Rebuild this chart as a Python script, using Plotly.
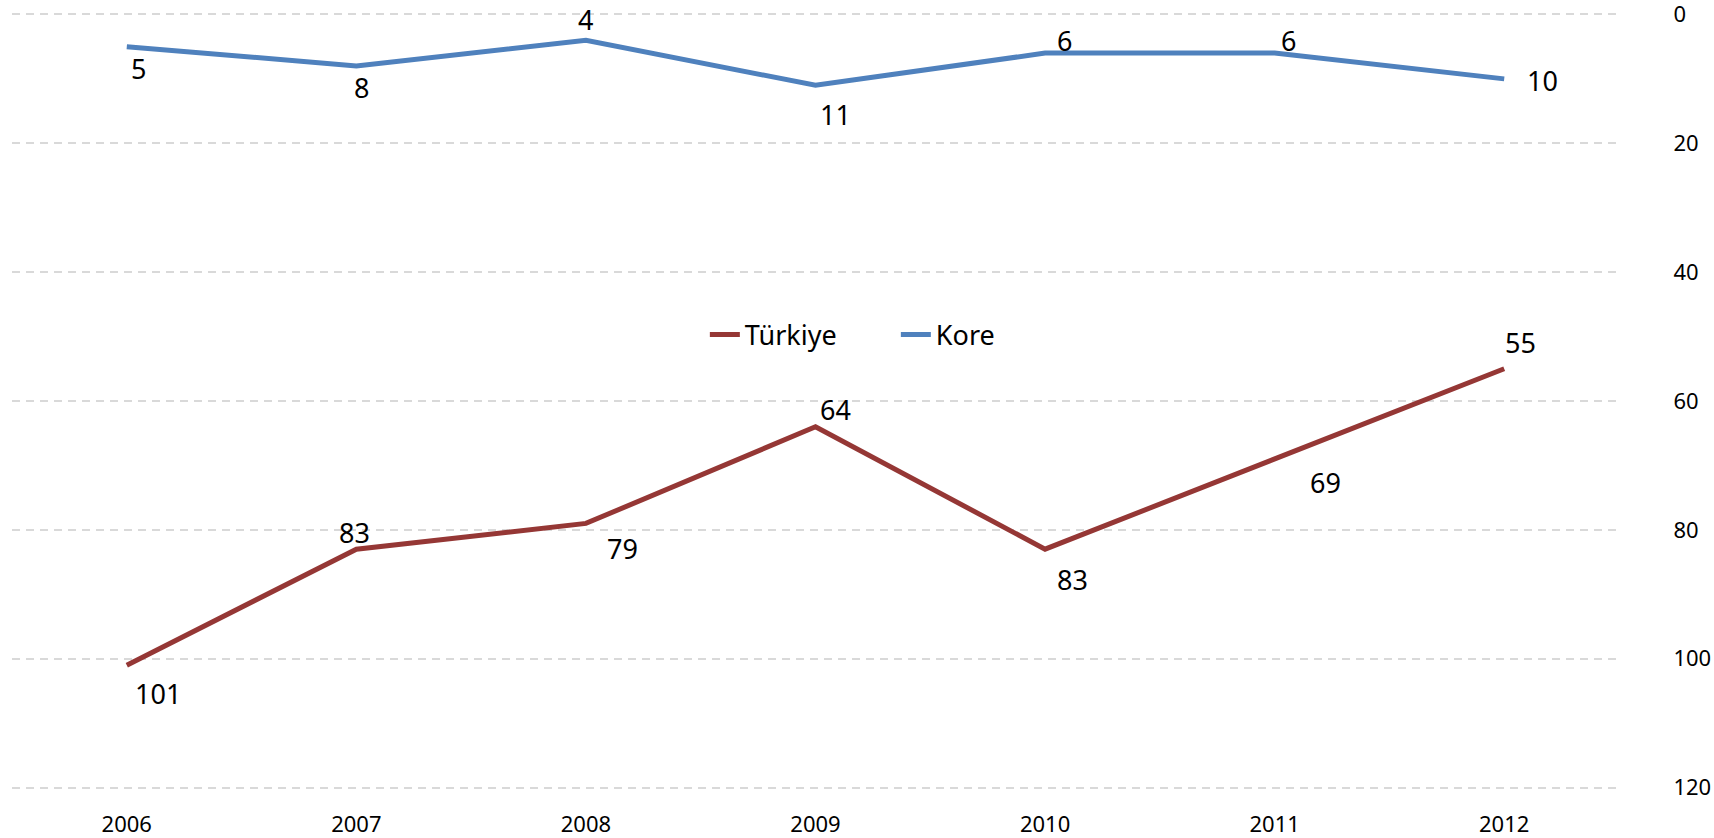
import plotly.graph_objects as go

years = [2006, 2007, 2008, 2009, 2010, 2011, 2012]
turkiye = [101, 83, 79, 64, 83, 69, 55]
kore = [5, 8, 4, 11, 6, 6, 10]
y_ticks = [0, 20, 40, 60, 80, 100, 120]

# label offsets (pixels) for each data label
kore_shift = [(12, -22), (5, -22), (0, 21), (20, -29), (19, 13), (14, 13), (38, -2)]
turk_shift = [(31, -28), (-2, 17), (37, -25), (20, 17), (27, -30), (51, -24), (16, 26)]

RED = "#953735"
BLUE = "#4F81BD"
FONT = "Noto Sans"

fig = go.Figure()
fig.add_trace(go.Scatter(x=years, y=turkiye, name="Türkiye", mode="lines",
                         line=dict(color=RED, width=5)))
fig.add_trace(go.Scatter(x=years, y=kore, name="Kore", mode="lines",
                         line=dict(color=BLUE, width=5)))

for ys, shifts in ((kore, kore_shift), (turkiye, turk_shift)):
    for x, y, (dx, dy) in zip(years, ys, shifts):
        fig.add_annotation(x=x, y=y, xref="x", yref="y", text=str(y), showarrow=False,
                           xshift=dx, yshift=dy,
                           font=dict(family=FONT, size=27, color="#000000"))

fig.update_layout(
    width=1714, height=838,
    margin=dict(l=12, r=95, t=8, b=44),
    paper_bgcolor="white", plot_bgcolor="white",
    font=dict(family=FONT, color="#000000"),
    showlegend=True,
    legend=dict(orientation="h", x=0.55, y=0.584, xanchor="center", yanchor="middle",
                font=dict(family=FONT, size=27), bgcolor="rgba(0,0,0,0)",
                entrywidth=146),
    xaxis=dict(type="linear", range=[2005.5, 2012.5], tickvals=years,
               ticktext=[str(y) for y in years], showgrid=False, zeroline=False,
               showline=False, ticks="", tickfont=dict(family=FONT, size=22),
               ticklabelstandoff=15, automargin=False),
    yaxis=dict(side="right", autorange=False, range=[121, -1], tickvals=y_ticks,
               showgrid=True, gridcolor="#D9D9D9", gridwidth=1.5, griddash="8px,6px",
               zeroline=False, showline=False, ticks="outside", ticklen=28,
               tickcolor="rgba(0,0,0,0)", ticklabelstandoff=21,
               ticklabeloverflow="allow", automargin=False,
               tickfont=dict(family=FONT, size=22)),
)

fig.write_html("out.html", config={"displayModeBar": False},
               post_script="document.body.style.margin='0';document.body.style.overflow='hidden';")
